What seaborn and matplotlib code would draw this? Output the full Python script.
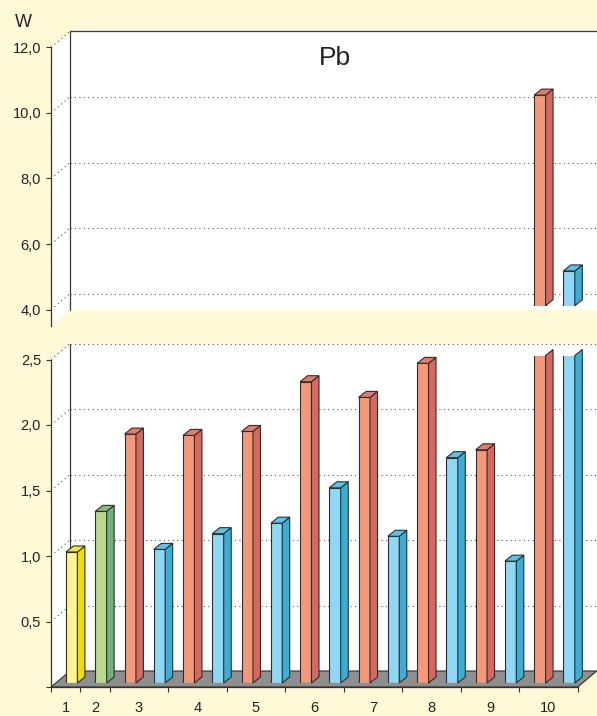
import numpy as np
import pandas as pd
import seaborn as sns
import matplotlib
matplotlib.use("Agg")
import matplotlib.pyplot as plt
from matplotlib.patches import Polygon, Rectangle
from matplotlib.lines import Line2D
from matplotlib.transforms import IdentityTransform

# ---------------------------------------------------------------- data
group_labels = ["1", "2", "3", "4", "5", "6", "7", "8", "9", "10"]
bar_group = ["1", "2", "3", "3", "4", "4", "5", "5", "6", "6",
             "7", "7", "8", "8", "9", "9", "10", "10"]
bar_kind = ["ref_a", "ref_b"] + ["series_1", "series_2"] * 8
values = [1.00, 1.31, 1.90, 1.02, 1.89, 1.14, 1.92, 1.22, 2.30, 1.49,
          2.18, 1.12, 2.44, 1.72, 1.78, 0.93, 10.42, 5.06]

lower_ticks = [0.0, 0.5, 1.0, 1.5, 2.0, 2.5]
upper_ticks = [4.0, 6.0, 8.0, 10.0, 12.0]
lower_range = (0.0, 2.5)
upper_range = (4.0, 12.0)
upper_wall_bottom = 3.5

title = "Pb"
unit_label = "W"

# ---------------------------------------------------------------- style
front_col = {"ref_a": "#FFF58C", "ref_b": "#B7D98B",
             "series_1": "#F5987A", "series_2": "#8ED8F5"}
side_col = {"ref_a": "#F0DE00", "ref_b": "#72AF7B",
            "series_1": "#D5695F", "series_2": "#39AED6"}
top_col = {"ref_a": "#F4E640", "ref_b": "#88BE78",
           "series_1": "#E07C69", "series_2": "#5BC3E8"}
cream = "#FFF9D7"
floor_col = "#8F8F8F"
edge = "#2E2E2E"
text_col = "#222222"

sns.set_theme(style="white")
plt.rcParams["font.family"] = ["Liberation Sans", "DejaVu Sans"]

FIG_W, FIG_H = 597, 716
n = len(values)
slot0, pitch = 71.7, 29.26          # bar-plane slot geometry in pixels
x_left = slot0 - pitch / 2
x_right = slot0 + (n - 0.5) * pitch
FRONT = np.array([-6.0, -4.0])      # front plane offset (display px)
BACK = np.array([13.0, 12.0])       # back wall offset
DEPTH = np.array([7.5, 6.0])        # bar depth

fig = plt.figure(figsize=(FIG_W / 100, FIG_H / 100), dpi=100, facecolor=cream)


def add_axes_px(x0, x1, yb_img, yt_img):
    return fig.add_axes([x0 / FIG_W, 1 - yb_img / FIG_H,
                         (x1 - x0) / FIG_W, (yb_img - yt_img) / FIG_H])


df = pd.DataFrame({"slot": np.arange(n), "group": bar_group,
                   "kind": bar_kind, "value": values})

# bar planes of the two panels
up_scale = (305.7 - 43.3) / (upper_range[1] - upper_range[0])
ax_low = add_axes_px(x_left, x_right, 683, 355.5)
ax_up = add_axes_px(x_left, x_right, 305.7, 43.3)


def disp(ax, x, y, off=(0.0, 0.0)):
    return ax.transData.transform((x, y)) + np.asarray(off)


def add_poly(ax, pts, z, **kw):
    ax.add_patch(Polygon(np.array(pts), closed=True, transform=IdentityTransform(),
                         clip_on=False, zorder=z, **kw))


def add_line(ax, p, q, z, **kw):
    ax.add_line(Line2D([p[0], q[0]], [p[1], q[1]], transform=IdentityTransform(),
                       clip_on=False, zorder=z, **kw))


dot = dict(color="#555555", lw=0.8, linestyle=(0, (1, 3)))
solid = dict(color="#3A3A3A", lw=0.9)


def draw_walls(ax, ylo, yhi, ticks, floor, solid_top):
    xa, xb = -0.5, n - 0.5
    add_poly(ax, [disp(ax, xa, ylo, BACK), disp(ax, xb, ylo, BACK),
                  disp(ax, xb, yhi, BACK), disp(ax, xa, yhi, BACK)],
             0.2, facecolor="white", edgecolor="none")
    add_poly(ax, [disp(ax, xa, ylo, FRONT), disp(ax, xa, yhi, FRONT),
                  disp(ax, xa, yhi, BACK), disp(ax, xa, ylo, BACK)],
             0.2, facecolor="white", edgecolor="none")
    for t in ticks:
        if t == ylo and floor:
            continue
        add_line(ax, disp(ax, xa, t, FRONT), disp(ax, xa, t, BACK), 0.3, **dot)
        if not (solid_top and t == yhi):
            add_line(ax, disp(ax, xa, t, BACK), disp(ax, xb, t, BACK), 0.3, **dot)
    if solid_top:
        add_line(ax, disp(ax, xa, yhi, BACK), disp(ax, xb, yhi, BACK), 0.3, **solid)
    add_line(ax, disp(ax, xa, ylo, BACK), disp(ax, xa, yhi, BACK), 0.3, **solid)
    if floor:
        add_poly(ax, [disp(ax, xa, ylo, FRONT), disp(ax, xb, ylo, FRONT),
                      disp(ax, xb, ylo, BACK), disp(ax, xa, ylo, BACK)],
                 0.4, facecolor=floor_col, edgecolor=edge, lw=0.8)


def draw_bars(ax, yrange):
    sns.barplot(data=df, x="slot", y="value", hue="kind", palette=front_col,
                saturation=1, dodge=False, width=0.39, edgecolor=edge,
                linewidth=0.8, legend=False, ax=ax, zorder=1)
    ax.set_xlim(-0.5, n - 0.5)
    ax.set_ylim(*yrange)
    ylo, yhi = yrange
    bars = [p for p in ax.patches if isinstance(p, Rectangle)]
    for p in bars:
        x0 = p.get_x()
        x1 = x0 + p.get_width()
        h = p.get_y() + p.get_height()
        slot = int(round(x0 + p.get_width() / 2))
        kind = bar_kind[slot]
        b, t = max(p.get_y(), ylo), min(h, yhi)
        if t <= b:
            continue
        add_poly(ax, [disp(ax, x1, b), disp(ax, x1, t),
                      disp(ax, x1, t, DEPTH), disp(ax, x1, b, DEPTH)],
                 1.1, facecolor=side_col[kind], edgecolor=edge, lw=0.8)
        if h <= yhi:
            add_poly(ax, [disp(ax, x0, h), disp(ax, x1, h),
                          disp(ax, x1, h, DEPTH), disp(ax, x0, h, DEPTH)],
                     1.1, facecolor=top_col[kind], edgecolor=edge, lw=0.8)
    ax.axis("off")


for ax, rng in ((ax_low, lower_range), (ax_up, upper_range)):
    ax.set_xlim(-0.5, n - 0.5)
    ax.set_ylim(*rng)

draw_bars(ax_low, lower_range)
draw_bars(ax_up, upper_range)
draw_walls(ax_low, lower_range[0], lower_range[1], lower_ticks, True, False)
draw_walls(ax_up, upper_wall_bottom, upper_range[1], upper_ticks, False, True)

# ---------------------------------------------------------------- front-plane axes
fr_low = add_axes_px(x_left + FRONT[0], x_right + FRONT[0], 683 - FRONT[1],
                     355.5 - FRONT[1])
fr_up = add_axes_px(x_left + FRONT[0], x_right + FRONT[0],
                    305.7 + (upper_range[0] - upper_wall_bottom) * up_scale - FRONT[1],
                    43.3 - FRONT[1])
fr_low.set_ylim(*lower_range)
fr_up.set_ylim(upper_wall_bottom, upper_range[1])


def fmt(v):
    return f"{v:.1f}".replace(".", ",")


group_pos = [float(np.mean([i for i, g in enumerate(bar_group) if g == lab]))
             for lab in group_labels]

for ax, ticks, show_x in ((fr_low, lower_ticks, True), (fr_up, upper_ticks, False)):
    ax.set_facecolor("none")
    ax.patch.set_visible(False)
    ax.grid(False)
    ax.set_xlim(-0.5, n - 0.5)
    for s in ("top", "right"):
        ax.spines[s].set_visible(False)
    ax.spines["left"].set_color("#333333")
    ax.spines["left"].set_linewidth(0.9)
    ax.set_yticks(ticks)
    ax.set_yticklabels(["" if t == 0 else fmt(t) for t in ticks])
    ax.tick_params(axis="y", which="major", left=True, direction="out", length=3.6,
                   width=0.8, color="#333333", pad=3.6, labelsize=10.5,
                   labelcolor=text_col)
    if show_x:
        ax.spines["bottom"].set_color("#333333")
        ax.spines["bottom"].set_linewidth(0.9)
        ax.set_xticks(group_pos)
        ax.set_xticklabels(group_labels)
        ax.set_xticks(np.arange(n + 1) - 0.5, minor=True)
        ax.tick_params(axis="x", which="major", bottom=True, length=0, pad=10,
                       labelsize=10.5, labelcolor=text_col)
        ax.tick_params(axis="x", which="minor", bottom=True, direction="out",
                       length=3.6, width=0.8, color="#333333")
    else:
        ax.spines["bottom"].set_visible(False)
        ax.set_xticks([])

fig.text(15 / FIG_W, 1 - 26.7 / FIG_H, unit_label, ha="left", va="baseline",
         fontsize=13, color=text_col)
fig.text(334.7 / FIG_W, 1 - 65 / FIG_H, title, ha="center", va="baseline",
         fontsize=19, color=text_col)

fig.savefig("out.png", dpi=100, facecolor=cream)
